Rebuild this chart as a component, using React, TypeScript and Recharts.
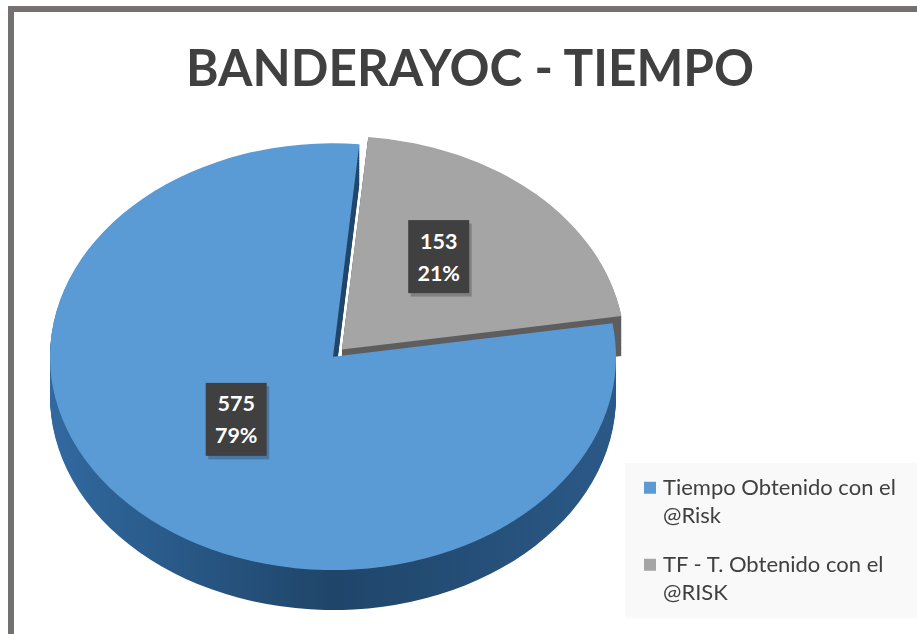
import React from 'react';
import { PieChart, Pie, Cell, Legend } from 'recharts';

// data
const categories = ['Tiempo Obtenido con el @Risk', 'TF - T. Obtenido con el @RISK'];
const values = [575, 153];
const topColors = ['#5b9bd5', '#a5a5a5'];
const sideColors = ['url(#blueSide)', '#5e5e5e'];

const data = categories.map((name, i) => ({ name, value: values[i] }));
const total = values.reduce((a, b) => a + b, 0);

// layout of the tilted pie (unscaled svg units, squashed with scaleY)
const SY = 0.754;
const CX = 333;
const CY = 473;
const R = 283;
const DEPTH = 53;
const START = 9;
const END = START - 360;
const EXPLODE = 13;

const grayMid = START - 360 * (values[0] / total) - 180 * (values[1] / total);
const EX = EXPLODE * Math.cos((grayMid * Math.PI) / 180);
const EY = -EXPLODE * Math.sin((grayMid * Math.PI) / 180);

const layers: number[] = [];
for (let d = DEPTH; d > 0; d -= 2) layers.push(d);

const RAD = Math.PI / 180;

const renderLabel = (only: number) => (props: any) => {
  const { cx, cy, midAngle, outerRadius, value, percent, index } = props;
  if (index !== only) return null;
  const r = outerRadius * 0.5;
  const x = cx + r * Math.cos(-midAngle * RAD);
  const y = cy + r * Math.sin(-midAngle * RAD) - 20;
  return (
    <g transform={`translate(${x},${y}) scale(1,${1 / SY})`}>
      <rect x={-28} y={-33} width={61} height={73} fill="#000" fillOpacity={0.22} />
      <rect x={-30.5} y={-36.5} width={61} height={73} fill="#404040" />
      <text x={0} y={-8} textAnchor="middle" fill="#fff" fontSize={21.5} fontWeight="bold" fontFamily="Lato">
        {value}
      </text>
      <text x={0} y={24} textAnchor="middle" fill="#fff" fontSize={21.5} fontWeight="bold" fontFamily="Lato">
        {Math.round(percent * 100)}%
      </text>
    </g>
  );
};

const LegendBox = () => (
  <div style={{ fontFamily: 'Lato', fontSize: 22, lineHeight: '28px', color: '#404040' }}>
    {categories.map((c, i) => (
      <div key={c} style={{ display: 'flex', alignItems: 'flex-start', marginBottom: 21 }}>
        <span style={{ width: 12, height: 12, marginTop: 9, marginRight: 7, background: topColors[i], flex: 'none' }} />
        <span style={{ width: 245 }}>{c}</span>
      </div>
    ))}
  </div>
);

export default function App() {
  return (
    <div style={{ position: 'absolute', left: 0, top: 0, width: 917, height: 634, background: '#fff', overflow: 'hidden' }}>
      <div style={{ position: 'absolute', left: 8, top: 6, width: 960, height: 700, border: '6px solid #767171' }} />
      <div style={{ position: 'absolute', left: 625, top: 463, width: 300, height: 155, background: '#f9f9f9' }} />
      <svg style={{ position: 'absolute', left: 0, top: 0 }} width={917} height={120}>
        <text x={470} y={86} textAnchor="middle" fontFamily="Lato" fontWeight="bold" fontSize={51} fill="#404040"
          textLength={568} lengthAdjust="spacingAndGlyphs">
          BANDERAYOC - TIEMPO
        </text>
      </svg>
      <div style={{ position: 'absolute', left: 0, top: 0, transform: `scaleY(${SY})`, transformOrigin: 'top left' }}>
        <PieChart width={917} height={Math.round(634 / SY)} margin={{ top: 0, right: 0, bottom: 0, left: 0 }}>
          <defs>
            <linearGradient id="blueSide" x1="0" y1="0" x2="1" y2="0">
              <stop offset="0%" stopColor="#3169a0" />
              <stop offset="50%" stopColor="#1f4569" />
              <stop offset="100%" stopColor="#2b5987" />
            </linearGradient>
          </defs>
          {layers.map((d) => (
            <Pie key={'gs' + d} data={data} dataKey="value" cx={CX + EX} cy={CY + EY + d} outerRadius={R}
              startAngle={START} endAngle={END} stroke="none" isAnimationActive={false} legendType="none">
              {data.map((e, i) => (
                <Cell key={e.name} fill={i === 1 ? sideColors[1] : 'none'} />
              ))}
            </Pie>
          ))}
          <Pie data={data} dataKey="value" cx={CX + EX} cy={CY + EY} outerRadius={R}
            startAngle={START} endAngle={END} stroke="none" isAnimationActive={false} legendType="none"
            label={renderLabel(1)} labelLine={false}>
            {data.map((e, i) => (
              <Cell key={e.name} fill={i === 1 ? topColors[1] : 'none'} />
            ))}
          </Pie>
          {layers.map((d) => (
            <Pie key={'bs' + d} data={data} dataKey="value" cx={CX} cy={CY + d} outerRadius={R}
              startAngle={START} endAngle={END} stroke="none" isAnimationActive={false} legendType="none">
              {data.map((e, i) => (
                <Cell key={e.name} fill={i === 0 ? sideColors[0] : 'none'} />
              ))}
            </Pie>
          ))}
          <Pie data={data} dataKey="value" cx={CX} cy={CY} outerRadius={R}
            startAngle={START} endAngle={END} stroke="none" isAnimationActive={false} legendType="none"
            label={renderLabel(0)} labelLine={false}>
            {data.map((e, i) => (
              <Cell key={e.name} fill={i === 0 ? topColors[0] : 'none'} />
            ))}
          </Pie>
          <Legend layout="vertical" align="right" verticalAlign="top" content={() => <LegendBox />}
            wrapperStyle={{ position: 'absolute', left: 644, top: 473 / SY, width: 275, transform: `scaleY(${1 / SY})`, transformOrigin: 'top left' }} />
        </PieChart>
      </div>
    </div>
  );
}
